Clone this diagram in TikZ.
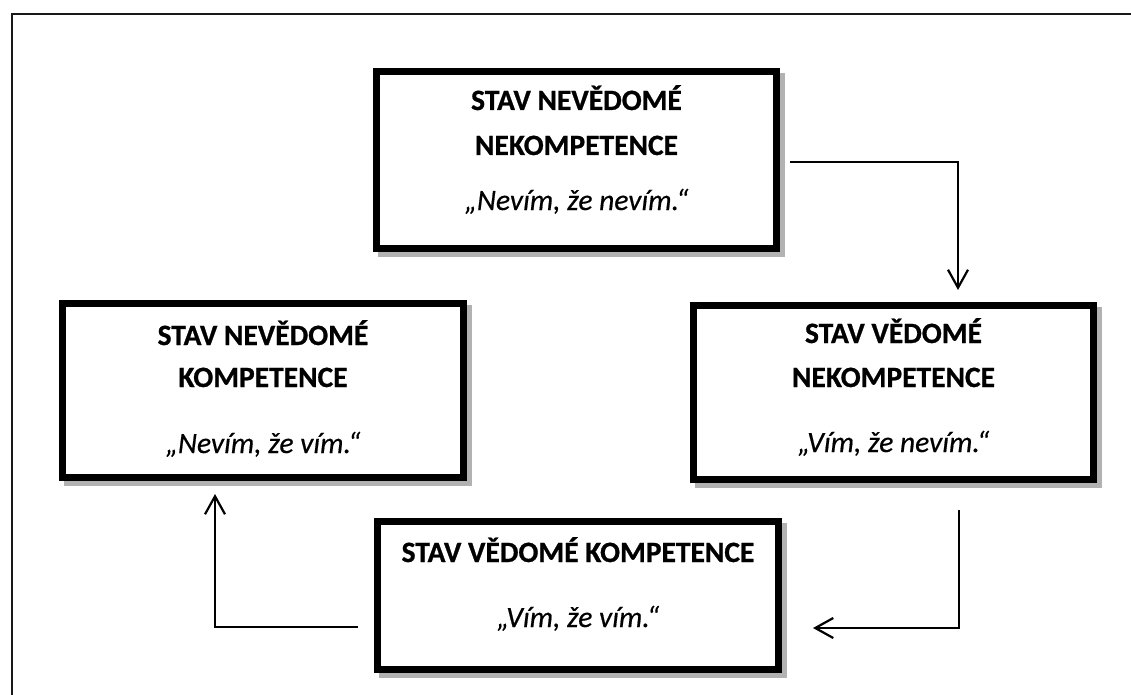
\documentclass[tikz,border=0pt]{standalone}
\usepackage{fontspec}
\setmainfont{Carlito}[BoldFeatures={FakeBold=0.8},ItalicFeatures={FakeBold=0.5}]
\usetikzlibrary{arrows.meta,shadows}

\tikzset{
  statebox/.style={draw=black, line width=6.5pt, fill=white, inner sep=0pt,
    general shadow={shadow xshift=5pt, shadow yshift=-5pt,
      fill=gray!60, draw=gray!60, line width=6.5pt}},
  ttl/.style={anchor=base, inner sep=0pt,
    font=\fontsize{29.5}{35}\selectfont\bfseries},
  saying/.style={anchor=base, inner sep=0pt,
    font=\fontsize{29.5}{35}\selectfont\itshape},
  flow/.style={line width=1.6pt,
    -{Straight Barb[length=18pt,width=20pt,line width=2.2pt]}},
}

\begin{document}
\begin{tikzpicture}[x=1pt,y=-1pt]
  \useasboundingbox (0,0) rectangle (1131,695);

  % page frame (left and top edges)
  \draw[line width=2pt, black!90] (12,695) -- (12,14) -- (1131,14);

  % the four states
  \node[statebox, minimum width=400pt, minimum height=177pt] (unc) at (576.5,160) {};
  \node[statebox, minimum width=400pt, minimum height=174pt] (coninc) at (893.5,392.5) {};
  \node[statebox, minimum width=401pt, minimum height=148pt] (concomp) at (578,595.5) {};
  \node[statebox, minimum width=401pt, minimum height=174pt] (unccomp) at (263,390.5) {};

  % texts
  \node[ttl] (t1a) at (576.5,110) {STAV NEVĚDOMÉ};
  \node[ttl] (t1b) at (576.5,155) {NEKOMPETENCE};
  \node[saying] (q1) at (576.5,210) {„Nevím, že nevím.“};

  \node[ttl] (t2a) at (893.5,343) {STAV VĚDOMÉ};
  \node[ttl] (t2b) at (893.5,387) {NEKOMPETENCE};
  \node[saying] (q2) at (893.5,452) {„Vím, že nevím.“};

  \node[ttl] (t3a) at (578,562) {STAV VĚDOMÉ KOMPETENCE};
  \node[saying] (q3) at (578,627) {„Vím, že vím.“};

  \node[ttl] (t4a) at (263,345) {STAV NEVĚDOMÉ};
  \node[ttl] (t4b) at (263,387) {KOMPETENCE};
  \node[saying] (q4) at (263,453) {„Nevím, že vím.“};

  % connector ends
  \coordinate (a1s) at (790,162);
  \coordinate (a1e) at (958,290);
  \coordinate (a2s) at (959,510);
  \coordinate (a2e) at (813,628);
  \coordinate (a3s) at (358,627);
  \coordinate (a3e) at (215,494);

  \draw[flow] (a1s) -| (a1e);
  \draw[flow] (a2s) |- (a2e);
  \draw[flow] (a3s) -| (a3e);
\end{tikzpicture}
\end{document}
